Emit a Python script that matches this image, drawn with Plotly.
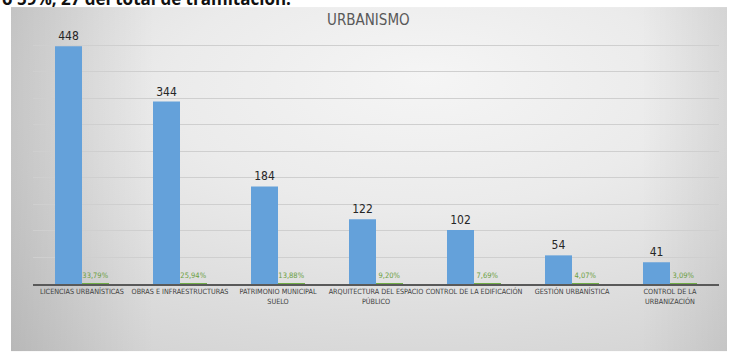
import base64
import plotly.graph_objects as go

# --- data -------------------------------------------------------------
categorias = [
    "LICENCIAS URBANÍSTICAS",
    "OBRAS E INFRAESTRUCTURAS",
    "PATRIMONIO MUNICIPAL<br>SUELO",
    "ARQUITECTURA DEL ESPACIO<br>PÚBLICO",
    "CONTROL DE LA EDIFICACIÓN",
    "GESTIÓN URBANÍSTICA",
    "CONTROL DE LA<br>URBANIZACIÓN",
]
expedientes = [448, 344, 184, 122, 102, 54, 41]
porcentaje = [0.3379, 0.2594, 0.1388, 0.0920, 0.0769, 0.0407, 0.0309]

titulo = "URBANISMO"
texto_superior = "o 59%, 27 del total de tramitación."

FUENTE = "Liberation Sans Narrow, DejaVu Sans Condensed, sans-serif"

# --- layout geometry (pixels) ------------------------------------------
W, H = 736, 352
L, R, T, B = 33, 17, 40, 67.5
PW, PH = W - L - R, H - T - B


def px_x(px):
    return (px - L) / PW


def px_y(py):
    return (H - B - py) / PH


# soft grey slide background drawn as an SVG gradient
svg = """<svg xmlns='http://www.w3.org/2000/svg' width='716' height='345' preserveAspectRatio='none'>
<defs>
<radialGradient id='g' cx='0.56' cy='0.3' r='1.0' fx='0.58' fy='0.2'>
<stop offset='0' stop-color='#f5f5f5'/>
<stop offset='0.35' stop-color='#ebebeb'/>
<stop offset='0.7' stop-color='#dadada'/>
<stop offset='1' stop-color='#cccccc'/>
</radialGradient>
<linearGradient id='l' x1='0' y1='0' x2='1' y2='0'>
<stop offset='0' stop-color='#000' stop-opacity='0.12'/>
<stop offset='0.2' stop-color='#000' stop-opacity='0'/>
<stop offset='0.88' stop-color='#000' stop-opacity='0'/>
<stop offset='1' stop-color='#000' stop-opacity='0.07'/>
</linearGradient>
</defs>
<rect width='716' height='345' fill='url(#g)'/>
<rect width='716' height='345' fill='url(#l)'/>
</svg>"""
fondo = "data:image/svg+xml;base64," + base64.b64encode(svg.encode()).decode()

fig = go.Figure()

fig.add_trace(go.Bar(
    x=categorias, y=expedientes,
    marker=dict(color="#64a1da", line=dict(width=0)),
    texttemplate="%{y}",
    textposition="outside", cliponaxis=False,
    textfont=dict(family=FUENTE, size=12, color="#262626"),
    name="Expedientes",
))
fig.add_trace(go.Bar(
    x=categorias, y=porcentaje,
    marker=dict(color="#70ad47", line=dict(width=0)),
    texttemplate="%{y:.2%}",
    textposition="outside", cliponaxis=False,
    textfont=dict(family=FUENTE, size=7.5, color="#6b9e3f"),
    name="Porcentaje",
))

fig.update_layout(
    width=W, height=H,
    margin=dict(l=L, r=R, t=T, b=B, pad=0),
    paper_bgcolor="white",
    plot_bgcolor="rgba(0,0,0,0)",
    separators=",.",
    barmode="group", bargap=0.449, bargroupgap=0,
    showlegend=False,
    images=[dict(
        source=fondo, xref="paper", yref="paper",
        x=px_x(11), y=px_y(7), sizex=px_x(727) - px_x(11), sizey=px_y(7) - px_y(352),
        xanchor="left", yanchor="top", sizing="stretch", layer="below",
    )],
    annotations=[
        dict(text=titulo, xref="paper", yref="paper", x=px_x(368), y=px_y(20),
             xanchor="center", yanchor="middle", showarrow=False,
             font=dict(family=FUENTE, size=15, color="#595959")),
        dict(text="<b>" + texto_superior + "</b>", xref="paper", yref="paper",
             x=px_x(0), y=px_y(12), xanchor="left", yanchor="bottom", showarrow=False,
             font=dict(family="Open Sans, sans-serif", size=17, color="#111111")),
    ],
    xaxis=dict(
        showline=True, linecolor="#595959", linewidth=1.5,
        showgrid=False, ticks="",
        tickfont=dict(family=FUENTE, size=7.2, color="#404040"),
        tickangle=0,
    ),
    yaxis=dict(
        range=[0, 460], dtick=50, showgrid=True, gridcolor="#cfcfcf", gridwidth=1,
        zeroline=False, showticklabels=False, showline=False,
    ),
)

fig.write_html("out.html")
